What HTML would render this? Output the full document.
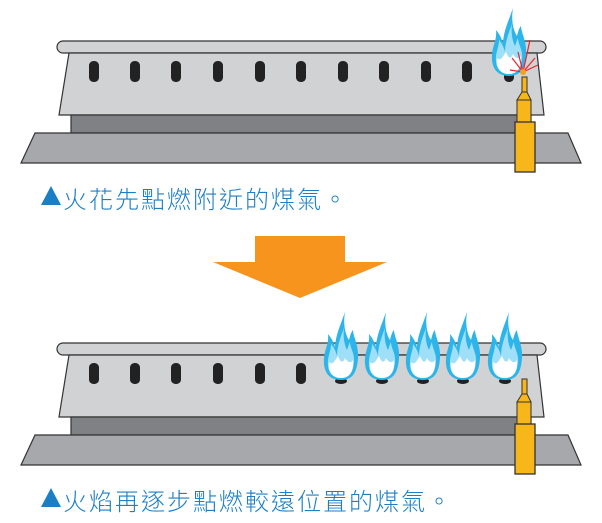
<!DOCTYPE html>
<html><head><meta charset="utf-8"><style>
html,body{margin:0;padding:0;background:#fff;}
.t{position:absolute;font-family:"Liberation Sans","Noto Sans CJK TC",sans-serif;color:#1b7fc6;font-size:24px;letter-spacing:2px;white-space:nowrap;font-weight:300;}
</style></head><body>
<div style="position:relative;width:602px;height:523px;overflow:hidden">
<svg width="602" height="523" viewBox="0 0 602 523" style="position:absolute;left:0;top:0">
<defs>
<g id="flame">
<path d="M0,0 C-12,0 -18,-8 -17,-22 C-16,-32 -12,-36 -13,-46 C-8,-40 -7,-36 -6,-32 C-6,-44 0,-56 4,-68 C2,-56 4,-46 8,-40 C9,-44 10,-48 12,-50 C12,-44 18,-34 17,-22 C16,-8 12,0 0,0Z" fill="#2bb5ea"/>
<path d="M0,-2 C-9,-2 -14,-8 -13,-20 C-12,-27 -10,-30 -10,-36 C-6,-31 -5,-28 -4,-24 C-4,-34 0,-44 3,-52 C2,-44 3,-36 6,-30 C7,-33 8,-36 9,-38 C9,-32 14,-26 13,-18 C12,-8 9,-2 0,-2Z" fill="#9fe0f8"/>
<path d="M0,-2 C-10,-2 -13,-10 -12,-18 C-8,-14 -6,-20 -3,-24 C-1,-18 2,-16 4,-22 C6,-18 10,-16 12,-20 C13,-8 8,-2 0,-2Z" fill="#fff"/>
</g>
<g id="burner">
<rect x="57" y="41" width="489" height="12" rx="6" fill="#d1d2d4" stroke="#333" stroke-width="1.2"/>
<polygon points="69,53 537,53 544,115 59,115" fill="#d1d2d4" stroke="#333" stroke-width="1.2"/>
<rect x="71" y="115" width="460" height="18" fill="#808185" stroke="#333" stroke-width="1.2"/>
<polygon points="35,133 568,133 581,163 21,163" fill="#a7a8ab" stroke="#333" stroke-width="1.2"/>
</g>
<g id="slot"><rect x="-5" y="0" width="10" height="21" rx="4.5" fill="#222"/></g>
<g id="ign">
<rect x="522" y="77" width="5" height="15" fill="#f7b619" stroke="#333" stroke-width="1"/>
<polygon points="522,92 527,92 531,100 517,100" fill="#f7b619" stroke="#333" stroke-width="1"/>
<rect x="517" y="100" width="14" height="22" fill="#f7b619" stroke="#333" stroke-width="1"/>
<rect x="515" y="122" width="20" height="50" fill="#f7b619" stroke="#333" stroke-width="1.3"/>
</g>
</defs>
<use href="#burner"/>
<use href="#slot" x="94" y="61"/><use href="#slot" x="135" y="61"/><use href="#slot" x="176" y="61"/><use href="#slot" x="218" y="61"/><use href="#slot" x="260" y="61"/><use href="#slot" x="301" y="61"/><use href="#slot" x="343" y="61"/><use href="#slot" x="384" y="61"/><use href="#slot" x="426" y="61"/><use href="#slot" x="467" y="61"/><use href="#slot" x="509" y="61"/>
<use href="#flame" transform="translate(509,76)"/>
<g stroke="#e8262b" stroke-width="1.2">
<line x1="523" y1="72" x2="512" y2="58"/><line x1="523" y1="72" x2="518" y2="52"/><line x1="523" y1="72" x2="530" y2="40"/><line x1="523" y1="72" x2="535" y2="58"/><line x1="523" y1="72" x2="538" y2="65"/><line x1="523" y1="72" x2="510" y2="70"/>
</g>
<circle cx="523" cy="72" r="3" fill="#f7a11b"/>
<use href="#ign"/>
<polygon points="255,236 345,236 345,262 387,262 300,298 213,262 255,262" fill="#f7941d"/>
<g transform="translate(0,302)">
<use href="#burner"/>
<use href="#slot" x="94" y="61"/><use href="#slot" x="135" y="61"/><use href="#slot" x="176" y="61"/><use href="#slot" x="218" y="61"/><use href="#slot" x="260" y="61"/><use href="#slot" x="301" y="61"/>
<use href="#ign"/>
</g>
<g fill="#222"><ellipse cx="341" cy="381" rx="6" ry="3"/><ellipse cx="382" cy="381" rx="6" ry="3"/><ellipse cx="423" cy="381" rx="6" ry="3"/><ellipse cx="463" cy="381" rx="6" ry="3"/><ellipse cx="505" cy="381" rx="6" ry="3"/></g>
<use href="#flame" transform="translate(341,380)"/>
<use href="#flame" transform="translate(382,380)"/>
<use href="#flame" transform="translate(423,380)"/>
<use href="#flame" transform="translate(463,380)"/>
<use href="#flame" transform="translate(505,380)"/>
<polygon points="51,186 61,205 41,205" fill="#1b7fc6"/>
<polygon points="51,488 61,507 41,507" fill="#1b7fc6"/>
</svg>
<div class="t" style="left:63px;top:180px">火花先點燃附近的煤氣。</div>
<div class="t" style="left:63px;top:482px">火焰再逐步點燃較遠位置的煤氣。</div>
</div>
</body></html>
